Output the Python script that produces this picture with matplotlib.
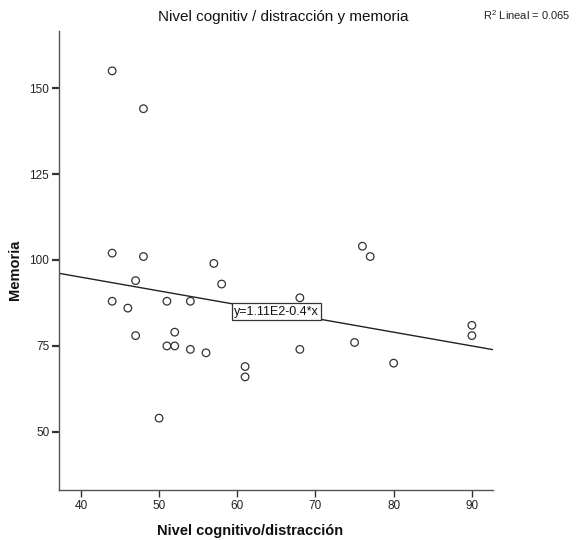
import numpy as np
import matplotlib.pyplot as plt

# Datos
nivel_cognitivo = [44, 48, 44, 48, 47, 57, 58, 44, 51, 54, 46, 47, 52, 51,
                   52, 54, 56, 61, 61, 50, 76, 77, 68, 68, 75, 80, 90, 90]
memoria = [155, 144, 102, 101, 94, 99, 93, 88, 88, 88, 86, 78, 79, 75,
           75, 74, 73, 69, 66, 54, 104, 101, 89, 74, 76, 70, 81, 78]

intercepto = 111.0
pendiente = -0.4
r2 = 0.065

x_ticks = [40, 50, 60, 70, 80, 90]
y_ticks = [50, 75, 100, 125, 150]

plt.rcParams['font.family'] = ['Liberation Sans', 'DejaVu Sans']

fig = plt.figure(figsize=(5.8, 5.4), dpi=100)
ax = fig.add_axes([0.1017, 0.0926, 0.7483, 0.85])

ax.scatter(nivel_cognitivo, memoria, s=30, facecolors='none',
           edgecolors='#333333', linewidths=0.9, zorder=3)

xmin, xmax = 37.2, 92.7
ax.set_xlim(xmin, xmax)
ax.set_ylim(33.1, 166.6)

xl = np.array([xmin, xmax])
ax.plot(xl, intercepto + pendiente * xl, color='#222222', lw=1.0, zorder=2)

xe = 65
ax.text(xe, intercepto + pendiente * xe, 'y=1.11E2-0.4*x', ha='center', va='center',
        fontsize=9, color='#111111', zorder=4,
        bbox=dict(boxstyle='square,pad=0.2', fc='white', ec='#333333', lw=0.9))

ax.set_xticks(x_ticks)
ax.set_yticks(y_ticks)
ax.tick_params(axis='both', direction='out', length=5, width=1.0,
               color='#333333', labelsize=8.5, labelcolor='#222222', pad=2)
ax.tick_params(axis='y', width=1.6)

for s in ['top', 'right']:
    ax.spines[s].set_visible(False)
for s in ['left', 'bottom']:
    ax.spines[s].set_color('#555555')
    ax.spines[s].set_linewidth(1.0)

ax.set_xlabel('Nivel cognitivo/distracción', fontsize=10.5, fontweight='bold', color='#111111')
ax.set_ylabel('Memoria', fontsize=10.5, fontweight='bold', color='#111111')
ax.xaxis.set_label_coords(0.44, -0.075)
ax.yaxis.set_label_coords(-0.085, 0.48)

fig.text(0.489, 0.968, 'Nivel cognitiv / distracción y memoria', ha='center', va='center',
         fontsize=11, color='#111111')
fig.text(0.983, 0.972, '$\\mathregular{R^2}$ Lineal = ' + str(r2), ha='right', va='center',
         fontsize=8, color='#222222')

fig.savefig('out.png', dpi=100, facecolor='white')
